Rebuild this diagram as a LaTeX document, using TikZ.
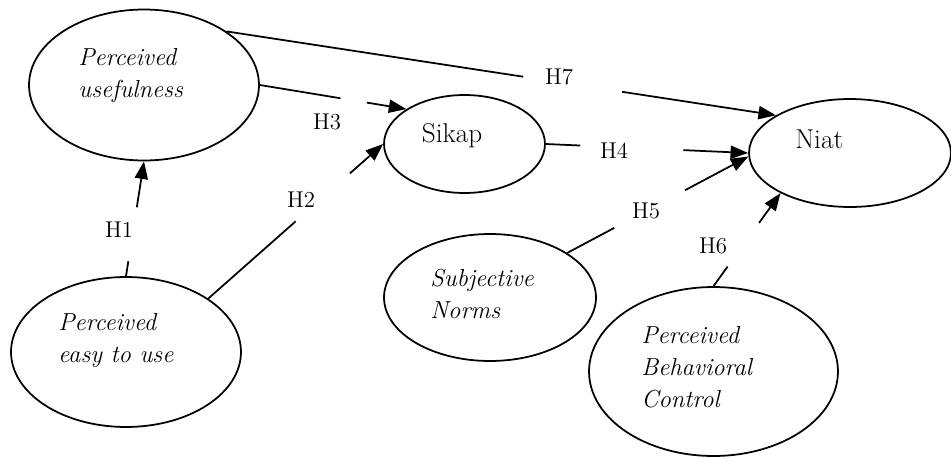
\documentclass[tikz,border=0pt]{standalone}
\usetikzlibrary{arrows.meta,shapes.geometric}

\tikzset{
  construct/.style={draw, ellipse, line width=1pt, inner sep=0pt},
  term/.style={font=\itshape\fontsize{14}{18.2}\selectfont, align=left, anchor=north west, inner sep=0pt},
  plain/.style={font=\fontsize{15.5}{18}\selectfont, anchor=north west, inner sep=0pt},
  hyp/.style={font=\fontsize{13}{15}\selectfont, inner sep=0pt},
  link/.style={line width=1pt},
  tip/.style={link, -{Triangle[length=10pt, width=7.5pt]}},
}

\begin{document}
\begin{tikzpicture}[x=0.02cm, y=-0.02cm]
\useasboundingbox (0,0) rectangle (951,457);

% Constructs
\node[construct, minimum width=4.6cm, minimum height=3.02cm] (pu) at (144,85) {};
\node[construct, minimum width=3.22cm, minimum height=1.96cm] (sikap) at (464.5,144) {};
\node[construct, minimum width=4.04cm, minimum height=2.16cm] (niat) at (850,153) {};
\node[construct, minimum width=4.6cm, minimum height=3.0cm] (peu) at (126,352) {};
\node[construct, minimum width=4.24cm, minimum height=2.54cm] (sn) at (490,297.5) {};
\node[construct, minimum width=4.98cm, minimum height=3.38cm] (pbc) at (713.5,371.5) {};

% Construct names
\node[term] (putext) at (78,48) {Perceived\\usefulness};
\node[plain] (sikaptext) at (421.5,123.5) {Sikap};
\node[plain] (niattext) at (795,130) {Niat};
\node[term] (peutext) at (58,313) {Perceived\\easy to use};
\node[term] (sntext) at (430,269) {Subjective\\Norms};
\node[term] (pbctext) at (641,326) {Perceived\\Behavioral\\Control};

% Hypotheses: from/to/gap start/gap end/name
\foreach \from/\to/\pa/\pb/\name in {
    peu.north/pu.south/0.13/0.60/h1,
    peu.33/sikap.west/0.50/0.81/h2,
    pu.east/sikap.149/0.55/0.73/h3,
    sikap.east/niat.west/0.17/0.68/h4,
    sn.30/niat.182/0.26/0.65/h5,
    pbc.north/niat.210/0.21/0.68/h6,
    pu.33/niat.153/0.54/0.72/h7} {
    \path (\from) -- (\to) coordinate[pos=\pa] (\name a) coordinate[pos=\pb] (\name b);
    \draw[link] (\from) -- (\name a);
    \draw[tip] (\name b) -- (\to);
}

% Hypothesis labels
\node[hyp] (h1) at (119,230) {H1};
\node[hyp] (h2) at (301,200) {H2};
\node[hyp] (h3) at (327,122) {H3};
\node[hyp] (h4) at (614,151) {H4};
\node[hyp] (h5) at (646,211) {H5};
\node[hyp] (h6) at (713,246) {H6};
\node[hyp] (h7) at (559,77) {H7};

\end{tikzpicture}
\end{document}
